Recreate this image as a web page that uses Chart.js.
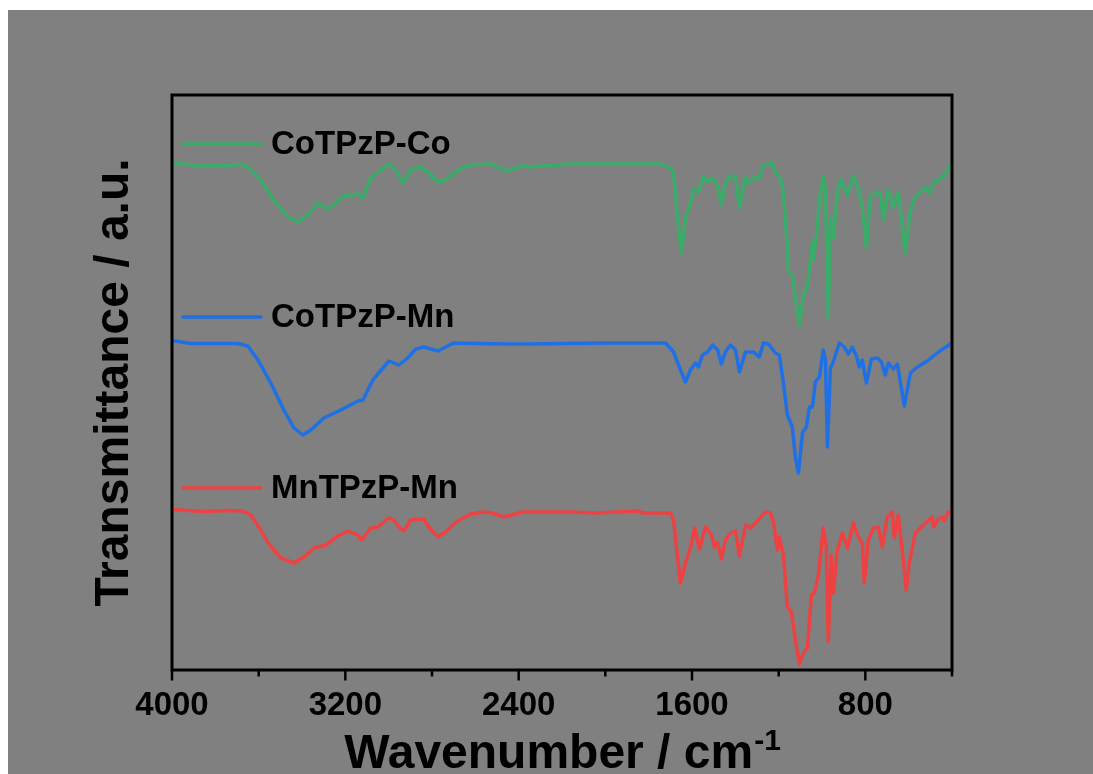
<!DOCTYPE html>
<html lang="en">
<head>
    <meta charset="UTF-8">
    <title>FTIR spectra</title>
    <style>
        body {
            margin: 10px 0 0 8px;
            background: #ffffff;
        }
        #chart {
            background: #808080;
            display: block;
        }
    </style>
</head>
<body>
<canvas id="chart" width="1085" height="764"></canvas>

<script src="https://cdn.jsdelivr.net/npm/chart.js@4.4.1/dist/chart.umd.min.js"></script>
<script>
    const FONT = '"Liberation Sans", Arial, Helvetica, sans-serif';

    const seriesNames = ['CoTPzP-Co', 'CoTPzP-Mn', 'MnTPzP-Mn'];
    const seriesColors = ['rgb(56, 172, 104)', 'rgb(31, 112, 228)', 'rgb(238, 66, 66)'];

    // wavenumber (cm-1) and offset transmittance (a.u.)
    const wnCoCo = [
        4000, 3930, 3852, 3728, 3682, 3645, 3590, 3530, 3465, 3419,
        3373, 3327, 3276, 3207, 3142, 3119, 3082, 3036, 2999, 2967,
        2935, 2898, 2852, 2815, 2773, 2737, 2681, 2621, 2529, 2451,
        2377, 2354, 2160, 1837, 1745, 1699, 1685, 1667, 1648, 1630,
        1607, 1593, 1570, 1547, 1528, 1505, 1482, 1464, 1446, 1422,
        1399, 1381, 1353, 1339, 1307, 1293, 1270, 1229, 1215, 1192,
        1178, 1160, 1155, 1137, 1123, 1104, 1086, 1067, 1054, 1044,
        1040, 1021, 1012, 994, 984, 971, 961, 948, 929, 915,
        883, 855, 832, 814, 795, 777, 745, 731, 717, 694,
        671, 648, 616, 592, 569, 523, 505, 486, 440, 400
    ];
    const tCoCo = [
        101.4, 101.1, 100.8, 100.9, 101.2, 100.4, 98, 94, 90.6, 89.6,
        91, 93.4, 92.2, 94.8, 95.2, 94.4, 98.4, 100, 101.2, 100,
        97.4, 100, 100.6, 99.4, 97.6, 98, 100, 101, 101.2, 99.8,
        101, 100.6, 101.2, 101.2, 101.2, 100.4, 99.4, 90.6, 83.4, 90.4,
        93.4, 96.2, 95.6, 98.8, 97.6, 98.4, 97, 93, 97.4, 98.8,
        98.6, 92.4, 98.6, 97.4, 98.6, 98.2, 101, 101.4, 99.4, 98.6,
        95.4, 84.6, 79.6, 79, 74.6, 69, 75, 76.6, 82, 85.6,
        82, 88.6, 94, 98.6, 96, 70.4, 90.4, 86.4, 95.4, 98.2,
        95, 98.8, 96.4, 92.6, 84.6, 94.6, 95.6, 95.4, 90, 96,
        92.6, 95.6, 83.4, 92, 94.6, 96.6, 95.4, 97.4, 98.8, 101.2
    ];

    const wnCoMn = [
        4000, 3912, 3696, 3650, 3603, 3544, 3484, 3437, 3396, 3359,
        3299, 3221, 3142, 3119, 3073, 2999, 2953, 2912, 2875, 2838,
        2773, 2700, 2469, 2354, 2008, 1837, 1722, 1685, 1653, 1630,
        1607, 1584, 1570, 1552, 1528, 1505, 1482, 1464, 1446, 1422,
        1399, 1381, 1353, 1316, 1289, 1270, 1247, 1215, 1197, 1178,
        1160, 1137, 1123, 1109, 1090, 1072, 1058, 1044, 1031, 1012,
        994, 984, 975, 961, 948, 920, 897, 878, 860, 841,
        828, 814, 795, 772, 745, 726, 708, 694, 671, 652,
        620, 592, 560, 514, 463, 400
    ];
    const tCoMn = [
        65.9, 65.3, 65.3, 64.8, 62, 57.4, 52, 48.4, 47, 48,
        50.4, 52, 53.8, 54, 58, 61.8, 61, 62.4, 64.2, 64.6,
        63.8, 65.4, 65.2, 65.2, 65.4, 65.4, 65.4, 63.6, 60, 57.6,
        60, 61.4, 60.6, 63, 63.6, 65, 64, 61.2, 63.6, 65,
        64, 59.6, 63.6, 63.6, 62.6, 65.4, 65.2, 63.4, 63, 57.4,
        51, 48.6, 42.6, 39.4, 47.4, 48.6, 52.6, 52.6, 57.6, 58.6,
        64, 62, 44.6, 60.4, 61.6, 65.4, 64.6, 63.2, 64.6, 62.8,
        60.6, 62, 57.4, 62.2, 62.4, 61.6, 59, 61.4, 60.2, 61.2,
        52.8, 59.4, 60.6, 61.8, 63.6, 65.4
    ];

    const wnMnMn = [
        4000, 3852, 3742, 3673, 3636, 3590, 3553, 3497, 3437, 3391,
        3345, 3290, 3235, 3188, 3142, 3124, 3082, 3050, 2999, 2976,
        2953, 2930, 2898, 2838, 2815, 2773, 2737, 2690, 2621, 2561,
        2520, 2469, 2382, 2160, 2045, 1851, 1824, 1699, 1685, 1667,
        1653, 1630, 1607, 1588, 1565, 1538, 1510, 1496, 1482, 1464,
        1446, 1422, 1399, 1381, 1353, 1330, 1307, 1261, 1238, 1224,
        1206, 1197, 1178, 1160, 1141, 1123, 1104, 1086, 1067, 1049,
        1035, 1017, 994, 980, 971, 957, 948, 929, 906, 883,
        855, 832, 814, 805, 786, 763, 740, 722, 699, 675,
        666, 648, 625, 611, 597, 569, 532, 491, 486, 463,
        445, 436, 417, 400
    ];
    const tMnMn = [
        32.1, 31.7, 31.9, 31.8, 31, 28, 25.2, 22.4, 21.4, 22.6,
        24.4, 25, 26.8, 27.8, 27, 26, 28.4, 28.6, 30.4, 30,
        28.6, 27.8, 30, 30.2, 28.6, 26.6, 27.6, 29.6, 31.2, 31.6,
        31.4, 30.6, 31.6, 31.6, 31.4, 31.8, 31.4, 31.4, 30, 22.6,
        17.4, 21.4, 24.4, 28.4, 24.2, 28.6, 27, 24.6, 25.4, 22.2,
        26, 27.4, 27.8, 22.8, 29, 28.4, 29.4, 31.6, 31.4, 29.6,
        24, 26.6, 23, 12.6, 11.6, 6, 1.2, 3.4, 4.4, 15,
        15.4, 19, 28.4, 24.6, 5.6, 23, 15.4, 24, 27.4, 24.4,
        29.4, 26.6, 25.4, 17.4, 26, 28.4, 28.6, 24.6, 30.6, 31.6,
        26.4, 31, 22, 16, 21.4, 27.4, 29, 30.6, 28.6, 30.2,
        30.6, 29.8, 31.6, 31.6
    ];

    const xMin = 400;
    const xMax = 4000;
    const xStep = 400;
    const xLabelStep = 800;

    function toPoints(xs, ys) {
        return xs.map((x, i) => ({x: x, y: ys[i]}));
    }

    // frame round the plot, outward tick marks, in-plot legend, x title with superscript
    const decorations = {
        id: 'decorations',
        afterDatasetsDraw(chart) {
            const ctx = chart.ctx;
            const area = chart.chartArea;
            const legendY = [49, 222, 393];

            ctx.save();
            ctx.font = 'bold 33px ' + FONT;
            ctx.textBaseline = 'middle';
            ctx.fillStyle = '#000';
            ctx.lineCap = 'round';
            for (let i = 0; i < seriesNames.length; i ++) {
                const y = area.top + legendY[i];
                ctx.strokeStyle = seriesColors[i];
                ctx.lineWidth = 3.5;
                ctx.beginPath();
                ctx.moveTo(area.left + 11, y);
                ctx.lineTo(area.left + 89, y);
                ctx.stroke();
                ctx.fillText(seriesNames[i], area.left + 99, y + 1);
            }
            ctx.restore();
        },
        afterDraw(chart) {
            const ctx = chart.ctx;
            const area = chart.chartArea;
            const xScale = chart.scales.x;

            ctx.save();
            ctx.strokeStyle = '#000';
            ctx.lineWidth = 3;
            ctx.strokeRect(area.left, area.top, area.right - area.left, area.bottom - area.top);

            ctx.lineWidth = 2.5;
            for (const tick of xScale.ticks) {
                const x = xScale.getPixelForValue(tick.value);
                const len = (xMax - tick.value) % xLabelStep === 0 ? 9 : 5;
                ctx.beginPath();
                ctx.moveTo(x, area.bottom);
                ctx.lineTo(x, area.bottom + 1.5 + len);
                ctx.stroke();
            }

            const main = 'Wavenumber / cm';
            const sup = '-1';
            ctx.fillStyle = '#000';
            ctx.textBaseline = 'alphabetic';
            ctx.font = 'bold 48px ' + FONT;
            const wMain = ctx.measureText(main).width;
            ctx.font = 'bold 30px ' + FONT;
            const wSup = ctx.measureText(sup).width;
            const cx = (area.left + area.right) / 2;
            const x0 = cx - (wMain + wSup) / 2;
            const base = chart.height - 6;
            ctx.font = 'bold 48px ' + FONT;
            ctx.fillText(main, x0, base);
            ctx.font = 'bold 30px ' + FONT;
            ctx.fillText(sup, x0 + wMain + 1, base - 18);
            ctx.restore();
        }
    };

    function makeDataset(i, xs, ys) {
        return {
            label: seriesNames[i],
            data: toPoints(xs, ys),
            borderColor: seriesColors[i],
            backgroundColor: seriesColors[i],
            borderWidth: 3.5,
            borderJoinStyle: 'round',
            borderCapStyle: 'round',
            pointRadius: 0,
            tension: 0,
            fill: false
        };
    }

    function main() {
        const ctx = document.getElementById('chart').getContext('2d');
        new Chart(ctx, {
            type: 'line',
            data: {
                datasets: [
                    makeDataset(0, wnCoCo, tCoCo),
                    makeDataset(1, wnCoMn, tCoMn),
                    makeDataset(2, wnMnMn, tMnMn)
                ]
            },
            options: {
                responsive: false,
                animation: false,
                devicePixelRatio: 1,
                layout: {
                    padding: {top: 85, right: 141, left: 0, bottom: 0}
                },
                plugins: {
                    legend: {display: false},
                    tooltip: {enabled: false}
                },
                scales: {
                    x: {
                        type: 'linear',
                        reverse: true,
                        min: xMin,
                        max: xMax,
                        afterFit: function(scale) { scale.height = 104; },
                        grid: {display: false, drawTicks: false},
                        border: {display: false},
                        ticks: {
                            stepSize: xStep,
                            autoSkip: false,
                            maxRotation: 0,
                            padding: 16,
                            color: '#000',
                            font: {family: FONT, size: 33, weight: 'bold'},
                            callback: function(v) {
                                return (xMax - v) % xLabelStep === 0 ? String(v) : '';
                            }
                        }
                    },
                    y: {
                        min: 0,
                        max: 115,
                        afterFit: function(scale) { scale.width = 164; },
                        grid: {display: false},
                        border: {display: false},
                        ticks: {display: false},
                        title: {
                            display: true,
                            text: 'Transmittance / a.u.',
                            color: '#000',
                            font: {family: FONT, size: 48, weight: 'bold'},
                            padding: {top: 78, bottom: 0}
                        }
                    }
                }
            },
            plugins: [decorations]
        });
    }

    main();
</script>
</body>
</html>
